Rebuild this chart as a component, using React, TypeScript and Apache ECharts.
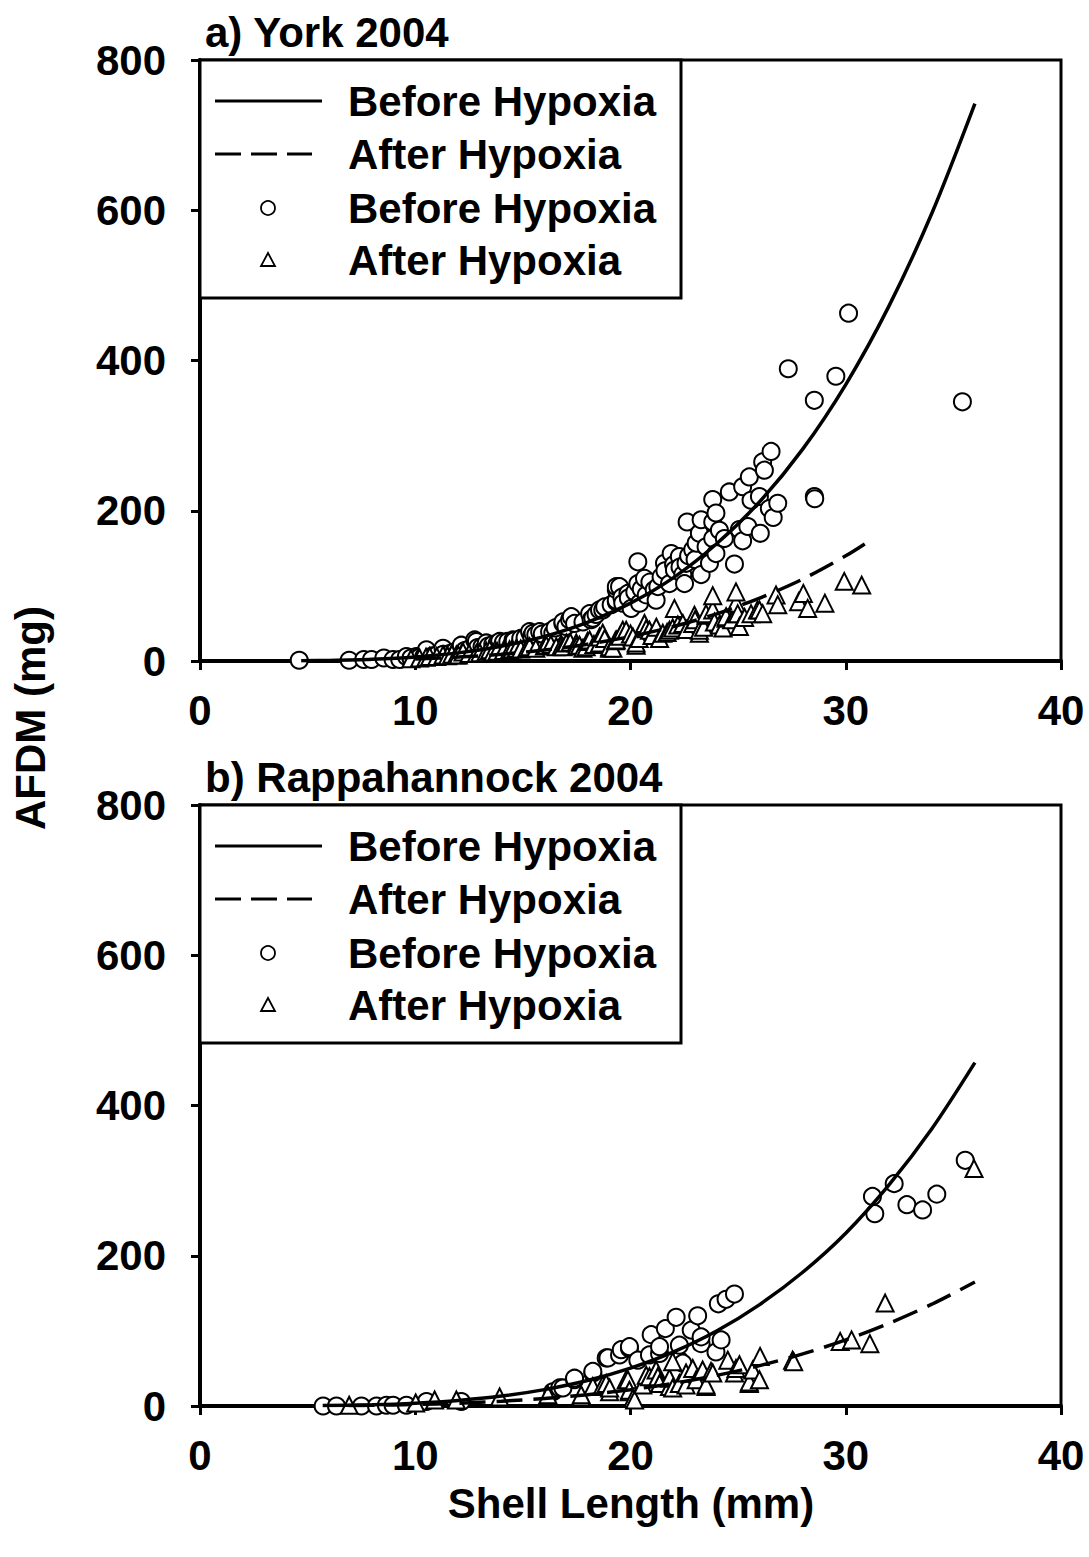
import React, { useEffect, useRef } from "react";
import * as echarts from "echarts";

const xTicks = [0, 10, 20, 30, 40];
const yTicks = [0, 200, 400, 600, 800];
const panelTitles = ["a) York 2004", "b) Rappahannock 2004"];
const legendLabels = ["Before Hypoxia", "After Hypoxia", "Before Hypoxia", "After Hypoxia"];

// York 2004 — before hypoxia (circles)
const yorkBefore: number[][] = [
  [4.61, 1], [6.93, 1], [7.61, 2], [7.97, 2], [8.54, 4], [8.97, 2], [9.28, 2], [9.59, 6], [10.05, 6],
  [9.8, 4], [10.2, 5], [10.4, 6], [10.52, 15], [10.8, 7], [11.0, 8], [11.29, 17], [11.3, 9], [11.6, 10],
  [11.8, 12], [12.0, 13], [12.14, 21], [12.3, 14], [12.5, 16], [12.76, 28], [12.84, 26], [12.9, 18],
  [13.1, 19], [13.3, 24], [13.4, 20], [13.6, 22], [13.8, 23], [13.92, 26], [14.1, 25], [14.3, 26],
  [14.54, 28], [14.6, 27], [14.9, 30], [15.1, 31], [15.31, 39], [15.4, 33], [15.47, 37], [15.6, 35],
  [15.78, 39], [15.9, 36], [16.24, 39], [16.39, 37], [16.5, 44], [16.86, 50], [16.86, 52], [17.0, 46],
  [17.17, 55], [17.25, 59], [17.4, 50], [17.79, 52], [18.1, 63], [18.17, 55], [18.25, 57], [18.4, 62],
  [18.56, 68], [18.71, 68], [18.8, 72], [19.1, 75], [19.34, 79], [19.34, 81], [19.34, 95], [19.34, 99],
  [19.49, 99], [19.6, 85], [19.64, 77], [19.88, 90], [19.9, 84], [20.03, 70], [20.2, 92], [20.34, 103],
  [20.34, 132], [20.42, 77], [20.5, 96], [20.65, 110], [20.73, 88], [20.9, 105], [21.1, 95], [21.19, 81],
  [21.27, 99], [21.42, 112], [21.58, 130], [21.6, 120], [21.81, 103], [21.89, 143], [22.0, 128],
  [22.04, 121], [22.27, 139], [22.3, 125], [22.43, 115], [22.51, 103], [22.58, 130], [22.63, 185],
  [22.7, 140], [22.89, 148], [23.0, 135], [23.05, 157], [23.2, 170], [23.28, 188], [23.28, 115],
  [23.51, 152], [23.67, 130], [23.82, 215], [23.82, 185], [23.82, 163], [23.97, 197], [23.97, 143],
  [24.13, 174], [24.36, 163], [24.59, 225], [24.83, 129], [25.06, 175], [25.21, 232], [25.21, 160],
  [25.45, 179], [25.52, 245], [25.6, 214], [25.99, 219], [26.03, 170], [26.14, 265], [26.22, 254],
  [26.45, 203], [26.53, 279], [26.63, 191], [26.84, 210], [27.33, 389], [28.54, 347], [28.54, 219],
  [28.56, 216], [29.54, 379], [30.13, 463], [35.42, 345]
];

// York 2004 — after hypoxia (triangles)
const yorkAfter: number[][] = [
  [9.8, 3], [10.2, 4], [10.5, 5], [10.67, 6], [11.0, 6], [11.29, 8], [11.5, 7], [11.7, 9], [11.91, 8],
  [12.0, 8], [12.22, 12], [12.5, 10], [12.84, 10], [13.0, 11], [13.3, 13], [13.46, 15], [13.61, 12],
  [13.8, 13], [14.1, 14], [14.38, 15], [14.5, 16], [14.7, 17], [14.9, 16], [15.2, 18], [15.31, 19],
  [15.6, 17], [16.0, 20], [16.09, 21], [16.3, 22], [16.55, 19], [16.8, 21], [16.86, 19], [17.02, 24],
  [17.2, 25], [17.48, 24], [17.5, 20], [17.63, 21], [17.79, 17], [17.94, 19], [18.0, 26], [18.1, 28],
  [18.3, 22], [18.56, 24], [18.56, 32], [18.71, 37], [18.8, 30], [19.03, 17], [19.03, 19], [19.18, 17],
  [19.3, 27], [19.34, 28], [19.5, 33], [19.64, 41], [19.8, 41], [20.0, 36], [20.11, 32], [20.26, 21],
  [20.26, 24], [20.4, 30], [20.65, 50], [20.73, 43], [20.88, 41], [21.0, 34], [21.2, 45], [21.35, 30],
  [21.5, 37], [21.7, 38], [21.81, 41], [21.96, 44], [22.04, 70], [22.2, 48], [22.43, 50], [22.6, 42],
  [22.89, 50], [22.97, 61], [23.0, 55], [23.2, 37], [23.2, 41], [23.4, 45], [23.51, 61], [23.51, 63],
  [23.82, 68], [23.82, 87], [23.9, 52], [24.13, 48], [24.3, 44], [24.44, 57], [24.44, 59], [24.7, 55],
  [24.9, 63], [24.9, 77], [24.9, 92], [24.98, 63], [25.06, 46], [25.3, 58], [25.6, 63], [25.9, 68],
  [25.99, 68], [26.14, 63], [26.76, 88], [26.84, 75], [27.81, 79], [28.03, 90], [28.23, 70], [29.03, 77],
  [29.93, 106], [30.74, 101]
];

// Rappahannock 2004 — before hypoxia (circles)
const rappBefore: number[][] = [
  [5.72, 0], [6.34, 0], [7.5, 0], [8.2, 0], [8.66, 1], [8.97, 1], [9.59, 1], [10.52, 6], [12.14, 6],
  [16.39, 19], [16.71, 24], [16.86, 24], [17.4, 35], [17.4, 37], [18.25, 44], [18.25, 46], [18.87, 64],
  [18.95, 64], [19.49, 68], [19.57, 75], [19.95, 77], [19.95, 79], [20.34, 61], [20.88, 68], [20.96, 95],
  [21.35, 70], [21.35, 79], [21.62, 103], [22.12, 118], [22.27, 61], [22.27, 81], [22.43, 57], [22.82, 101],
  [23.12, 120], [23.28, 83], [23.28, 92], [23.97, 72], [24.08, 136], [24.21, 88], [24.44, 142], [24.83, 149],
  [31.24, 279], [31.35, 256], [32.25, 296], [32.84, 268], [33.57, 261], [34.23, 282], [35.55, 327]
];

// Rappahannock 2004 — after hypoxia (triangles)
const rappAfter: number[][] = [
  [6.93, 1], [10.02, 4], [10.9, 8], [11.91, 8], [13.92, 12], [16.16, 15], [17.71, 12], [17.71, 15],
  [18.25, 26], [18.71, 28], [18.87, 30], [19.03, 19], [19.03, 24], [19.8, 35], [19.88, 35], [19.95, 19],
  [19.95, 21], [20.11, 10], [20.19, 8], [20.57, 28], [20.73, 41], [20.88, 39], [21.19, 48], [21.27, 39],
  [21.35, 30], [21.81, 26], [21.81, 37], [21.96, 24], [21.96, 59], [22.27, 30], [22.58, 28], [22.58, 44],
  [22.89, 50], [23.05, 35], [23.35, 48], [23.51, 26], [23.51, 28], [23.74, 46], [23.82, 44], [24.52, 61],
  [24.83, 44], [24.9, 50], [25.06, 55], [25.52, 30], [25.52, 32], [25.68, 48], [25.99, 35], [26.02, 66],
  [27.53, 61], [27.58, 59], [29.74, 86], [30.27, 88], [31.12, 83], [31.83, 137], [35.96, 316]
];

// fitted curves: [shell length, AFDM]
const yorkBeforeFit: number[][] = [
  [4.7, 0.3], [6, 0.75], [8, 2.3], [10, 5.4], [12, 10.8], [14, 19.6], [16, 32.7], [18, 51.5], [20, 77],
  [22, 111], [24, 156], [26, 212], [28, 282], [30, 368], [32, 472], [34, 596], [36, 742]
];
const yorkAfterFit: number[][] = [
  [10, 2.7], [12, 5.2], [14, 9], [16, 14.6], [18, 22.3], [20, 32.6], [22, 45.9], [24, 62.8], [26, 83.8],
  [28, 109], [30, 140], [31, 158]
];
const rappBeforeFit: number[][] = [
  [5.7, 0.5], [8, 1.6], [10, 3.75], [12, 7.4], [14, 13.2], [16, 21.8], [18, 33.9], [20, 50.4], [22, 72],
  [24, 99.8], [26, 135], [28, 178], [30, 230], [32, 294], [34, 369], [36, 457]
];
const rappAfterFit: number[][] = [
  [6.9, 0.55], [8, 0.9], [10, 2], [12, 3.7], [14, 6.4], [16, 10], [18, 15.1], [20, 21.7], [22, 30.2],
  [24, 40.7], [26, 53.7], [28, 69.3], [30, 87.9], [32, 110], [34, 135.5], [36, 165]
];

const FONT = '"Liberation Sans", Arial, Helvetica, sans-serif';
const FS = 42;

export default function App() {
  const ref = useRef<HTMLDivElement>(null);

  useEffect(() => {
    document.body.style.margin = "0";
    if (!ref.current) return;
    const chart = echarts.init(ref.current, undefined, { renderer: "svg" });

    const gridTops = [60, 805];
    const gridH = 601;
    const gridLeft = 200;
    const gridW = 861;

    const axisCommon = {
      axisLine: { show: true, onZero: false, lineStyle: { color: "#000", width: 4 } },
      axisTick: { show: true, inside: false, length: 9, lineStyle: { color: "#000", width: 3 } },
      splitLine: { show: false },
      axisLabel: { color: "#000", fontSize: FS, fontWeight: "bold", fontFamily: FONT },
    };

    const xAxes = [0, 1].map((i) => ({
      ...axisCommon,
      gridIndex: i,
      type: "value",
      min: xTicks[0],
      max: xTicks[xTicks.length - 1],
      interval: xTicks[1] - xTicks[0],
      axisLabel: { ...axisCommon.axisLabel, margin: 28 },
    }));
    const yAxes = [0, 1].map((i) => ({
      ...axisCommon,
      gridIndex: i,
      type: "value",
      min: yTicks[0],
      max: yTicks[yTicks.length - 1],
      interval: yTicks[1] - yTicks[0],
      axisLabel: { ...axisCommon.axisLabel, margin: 34 },
    }));

    const scatter = (data: number[][], idx: number, symbol: string, size: number) => ({
      type: "scatter",
      xAxisIndex: idx,
      yAxisIndex: idx,
      data,
      symbol,
      symbolSize: size,
      itemStyle: { color: "#fff", borderColor: "#000", borderWidth: 2, opacity: 1 },
      z: symbol === "circle" ? 3 : 4,
      silent: true,
    });
    const curve = (data: number[][], idx: number, dashed: boolean) => ({
      type: "line",
      xAxisIndex: idx,
      yAxisIndex: idx,
      data,
      smooth: 0.3,
      showSymbol: false,
      symbol: "none",
      lineStyle: { color: "#000", width: 3.5, type: dashed ? [26, 11] : "solid" },
      z: 5,
      silent: true,
    });

    const legendGroup = (top: number) => {
      const rows = [top + 41, top + 94, top + 148, top + 200];
      return [
        {
          type: "rect",
          shape: { x: 200, y: top, width: 481, height: 238 },
          style: { fill: "#fff", stroke: "#000", lineWidth: 3 },
          z: 10,
        },
        {
          type: "line",
          shape: { x1: 215, y1: rows[0], x2: 322, y2: rows[0] },
          style: { stroke: "#000", lineWidth: 3 },
          z: 11,
        },
        {
          type: "line",
          shape: { x1: 215, y1: rows[1], x2: 312, y2: rows[1] },
          style: { stroke: "#000", lineWidth: 3, lineDash: [26, 10] },
          z: 11,
        },
        {
          type: "circle",
          shape: { cx: 268, cy: rows[2], r: 7 },
          style: { fill: "#fff", stroke: "#000", lineWidth: 1.8 },
          z: 11,
        },
        {
          type: "polygon",
          shape: { points: [[261, rows[3] + 6], [275, rows[3] + 6], [268, rows[3] - 7]] },
          style: { fill: "#fff", stroke: "#000", lineWidth: 1.8 },
          z: 11,
        },
        ...legendLabels.map((t, k) => ({
          type: "text",
          x: 348,
          y: rows[k],
          style: {
            text: t,
            fill: "#000",
            fontSize: FS,
            fontWeight: "bold",
            fontFamily: FONT,
            align: "left",
            verticalAlign: "middle",
          },
          z: 11,
        })),
      ];
    };

    const option = {
      animation: false,
      backgroundColor: "#fff",
      grid: gridTops.map((t) => ({
        left: gridLeft,
        top: t,
        width: gridW,
        height: gridH,
        show: true,
        borderColor: "#000",
        borderWidth: 3,
        backgroundColor: "transparent",
        containLabel: false,
      })),
      xAxis: xAxes,
      yAxis: yAxes,
      series: [
        scatter(yorkBefore, 0, "circle", 17),
        scatter(yorkAfter, 0, "triangle", 17),
        curve(yorkBeforeFit, 0, false),
        curve(yorkAfterFit, 0, true),
        scatter(rappBefore, 1, "circle", 17),
        scatter(rappAfter, 1, "triangle", 17),
        curve(rappBeforeFit, 1, false),
        curve(rappAfterFit, 1, true),
      ],
      graphic: [
        ...legendGroup(gridTops[0]),
        ...legendGroup(gridTops[1]),
        ...panelTitles.map((t, i) => ({
          type: "text",
          x: 205,
          y: gridTops[i] - 28,
          style: {
            text: t,
            fill: "#000",
            fontSize: FS,
            fontWeight: "bold",
            fontFamily: FONT,
            align: "left",
            verticalAlign: "middle",
          },
          z: 12,
        })),
        {
          type: "text",
          x: 30,
          y: 718,
          rotation: Math.PI / 2,
          style: {
            text: "AFDM (mg)",
            fill: "#000",
            fontSize: FS,
            fontWeight: "bold",
            fontFamily: FONT,
            align: "center",
            verticalAlign: "middle",
          },
          z: 12,
        },
        {
          type: "text",
          x: 631,
          y: 1503,
          style: {
            text: "Shell Length (mm)",
            fill: "#000",
            fontSize: FS,
            fontWeight: "bold",
            fontFamily: FONT,
            align: "center",
            verticalAlign: "middle",
          },
          z: 12,
        },
      ],
    };

    chart.setOption(option as any);
    return () => chart.dispose();
  }, []);

  return <div ref={ref} style={{ width: 1089, height: 1557 }} />;
}
